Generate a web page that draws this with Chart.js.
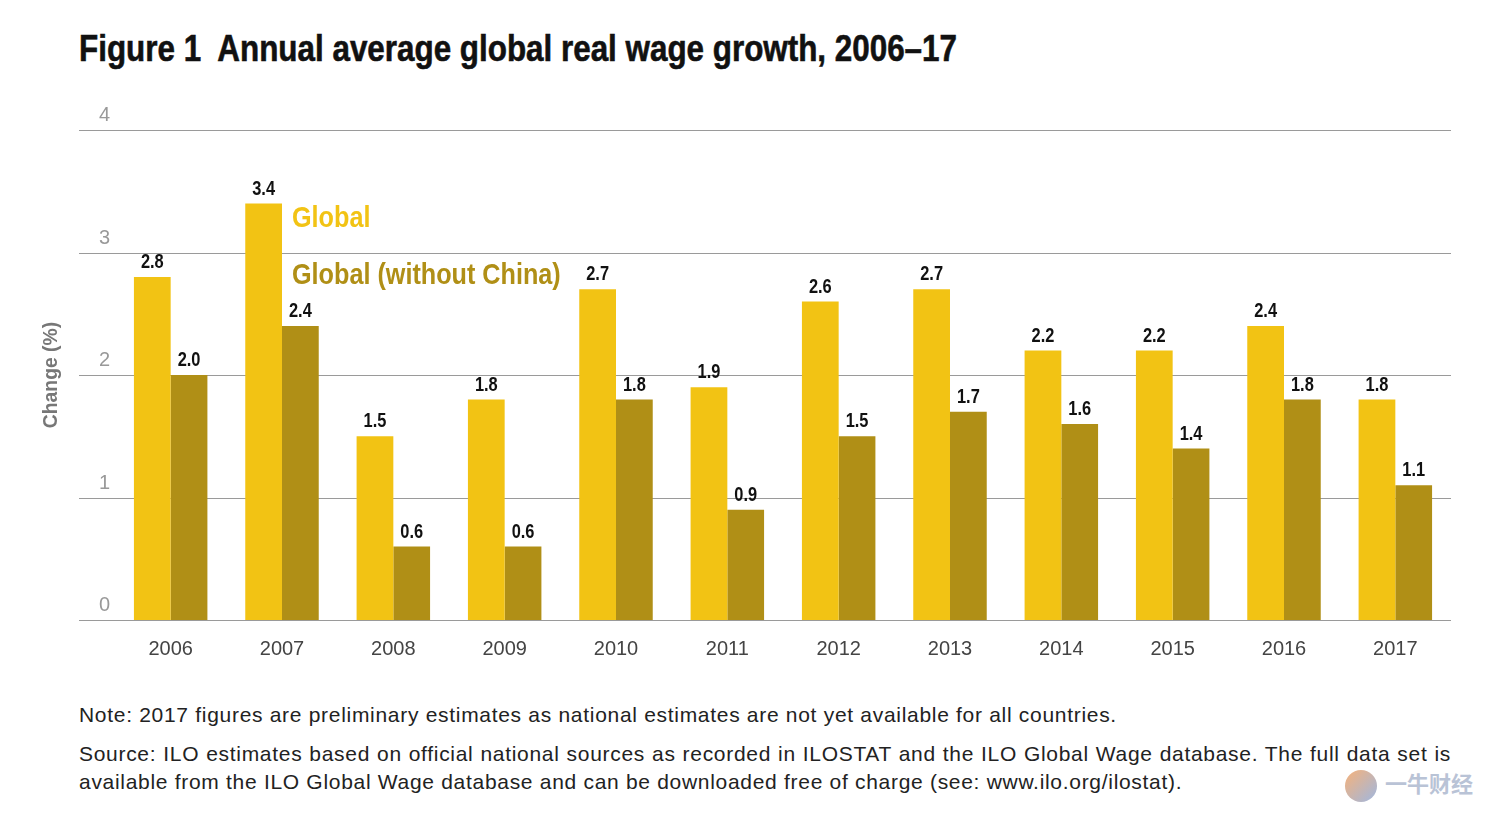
<!DOCTYPE html>
<html>
<head>
<meta charset="utf-8">
<script src="https://cdn.jsdelivr.net/npm/chart.js@4.4.1/dist/chart.umd.min.js"></script>
<style>
  html, body { margin: 0; padding: 0; background: #fff; }
  body { width: 1500px; height: 814px; position: relative; overflow: hidden; font-family: 'Liberation Sans', Arial, sans-serif; }
  #title { position: absolute; left: 79px; top: 28px; font-family: 'Liberation Sans', Arial, sans-serif; font-weight: bold; font-size: 37px; color: #111; white-space: nowrap; transform-origin: left top; -webkit-text-stroke: 0.6px #111; }
  #wrap { position: absolute; left: 0; top: 0; width: 1500px; height: 692px; }
  .note { position: absolute; left: 79px; width: 1372px; font-size: 21px; letter-spacing: 0.7px; color: #222; line-height: 28px; white-space: nowrap; }
  #note1 { top: 701px; }
  #note2 { top: 740px; text-align: justify; text-align-last: justify; white-space: normal; }
  #note3 { top: 768px; }
  #wm { position: absolute; left: 1345px; top: 766px; font-size: 22px; font-weight: bold; color: #b9c3d6; font-family: 'Noto Sans CJK SC', sans-serif; }
  #wm span { display: inline-block; width: 32px; height: 32px; border-radius: 50%; background: linear-gradient(135deg, #f6b27a, #9fb7e0); vertical-align: middle; margin-right: 8px; }
</style>
</head>
<body>
<div id="title">Figure 1&nbsp; Annual average global real wage growth, 2006–17</div>
<div id="wrap"><canvas id="chart"></canvas></div>
<div class="note" id="note1">Note: 2017 figures are preliminary estimates as national estimates are not yet available for all countries.</div>
<div class="note" id="note2">Source: ILO estimates based on official national sources as recorded in ILOSTAT and the ILO Global Wage database. The full data set is</div>
<div class="note" id="note3">available from the ILO Global Wage database and can be downloaded free of charge (see: www.ilo.org/ilostat).</div>
<div id="wm"><span></span>一牛财经</div>
<script>
const years = ['2006', '2007', '2008', '2009', '2010', '2011', '2012', '2013', '2014', '2015', '2016', '2017'];
const globalGrowth = [2.8, 3.4, 1.5, 1.8, 2.7, 1.9, 2.6, 2.7, 2.2, 2.2, 2.4, 1.8];
const globalNoChina = [2.0, 2.4, 0.6, 0.6, 1.8, 0.9, 1.5, 1.7, 1.6, 1.4, 1.8, 1.1];
const yTicks = [0, 1, 2, 3, 4];
const seriesNames = ['Global', 'Global (without China)'];

const SANS = "'Liberation Sans', Arial, sans-serif";
const YELLOW = '#f2c314';
const GOLD = '#b08f16';

// squeeze the title to the width of the original condensed face
const title = document.getElementById('title');
title.style.transform = 'scaleX(' + (878 / title.offsetWidth) + ')';

// no condensed font installed, so squash text horizontally
function condText(ctx, text, x, y, sx, align) {
    ctx.save();
    ctx.translate(x, y);
    ctx.scale(sx, 1);
    ctx.textAlign = align;
    ctx.fillText(text, 0, 0);
    ctx.restore();
}

// grid lines, y tick labels, axis title, value labels and the inline legend
const decor = {
    id: 'decor',
    beforeDatasetsDraw(chart) {
        const { ctx, chartArea, scales: { y } } = chart;
        ctx.save();
        ctx.strokeStyle = '#9a9a9a';
        ctx.lineWidth = 1;
        ctx.fillStyle = '#999';
        ctx.font = '20px ' + SANS;
        ctx.textAlign = 'left';
        ctx.textBaseline = 'alphabetic';
        yTicks.forEach(t => {
            const py = Math.round(y.getPixelForValue(t)) + 0.5;
            ctx.beginPath();
            ctx.moveTo(79, py);
            ctx.lineTo(chartArea.right, py);
            ctx.stroke();
            ctx.fillText(String(t), 99, py - 10);
        });
        // axis title
        ctx.translate(51, (y.top + y.bottom) / 2);
        ctx.rotate(-Math.PI / 2);
        ctx.textBaseline = 'middle';
        ctx.fillStyle = '#777';
        ctx.font = 'bold 21px ' + SANS;
        condText(ctx, 'Change (%)', 0, 0, 0.92, 'center');
        ctx.restore();
    },
    afterDatasetsDraw(chart) {
        const { ctx } = chart;
        ctx.save();
        ctx.fillStyle = '#111';
        ctx.font = 'bold 20px ' + SANS;
        ctx.textBaseline = 'alphabetic';
        chart.data.datasets.forEach((ds, i) => {
            chart.getDatasetMeta(i).data.forEach((bar, j) => {
                condText(ctx, ds.data[j].toFixed(1), bar.x, bar.y - 9, 0.82, 'center');
            });
        });
        // legend next to the 2007 bars
        const b = chart.getDatasetMeta(0).data[1];
        const lx = b.x + b.width / 2 + 10;
        ctx.textBaseline = 'middle';
        ctx.font = 'bold 30px ' + SANS;
        ctx.fillStyle = YELLOW;
        condText(ctx, seriesNames[0], lx, 219, 0.84, 'left');
        ctx.fillStyle = GOLD;
        condText(ctx, seriesNames[1], lx, 276, 0.84, 'left');
        ctx.restore();
    }
};

new Chart(document.getElementById('chart'), {
    type: 'bar',
    data: {
        labels: years,
        datasets: [
            { label: seriesNames[0], data: globalGrowth, backgroundColor: YELLOW },
            { label: seriesNames[1], data: globalNoChina, backgroundColor: GOLD }
        ]
    },
    options: {
        responsive: true,
        maintainAspectRatio: false,
        animation: false,
        events: [],
        categoryPercentage: 0.66,
        barPercentage: 1.0,
        layout: { padding: { left: 115, right: 49, top: 130, bottom: 22 } },
        plugins: { legend: { display: false }, tooltip: { enabled: false } },
        scales: {
            x: {
                grid: { display: false },
                border: { display: false },
                ticks: { color: '#444', padding: 9, font: { size: 20, family: SANS } }
            },
            y: {
                display: false,
                min: 0,
                max: 4
            }
        }
    },
    plugins: [decor]
});
</script>
</body>
</html>
